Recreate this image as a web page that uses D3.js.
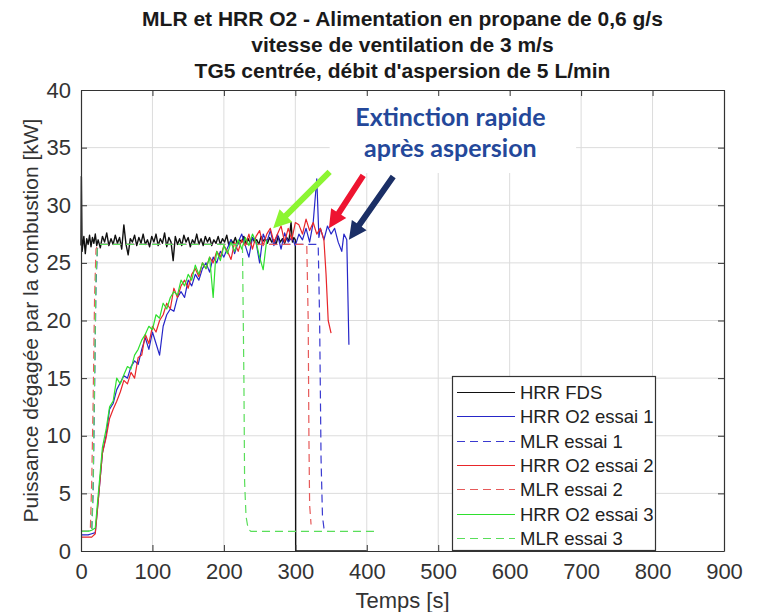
<!DOCTYPE html>
<html>
<head>
<meta charset="utf-8">
<script src="https://cdn.jsdelivr.net/npm/d3@7"></script>
<style>
  body { margin: 0; background: #fff; }
  svg { display: block; }
</style>
</head>
<body>
<div id="chart"></div>
<script>
// --- data: [temps (s), puissance (kW)] ---
const hrrFds = [[0,26.5],[0.5,32.5],[1.5,26],[4,27.3],[6,25.8],[8,27.1],[10,26.6],[12,27.4],[14,26.4],[16,27.2],[18,26.7],[20,27.5],[22,26.5],[24,27.0],[27,26.3],[30,27.3],[33,26.8],[36,27.6],[39,26.5],[42,27.1],[45,26.6],[48,27.4],[51,26.7],[54,27.2],[57,26.2],[60,28.3],[63,26.6],[66,25.7],[69,27.1],[72,26.8],[75,27.4],[78,26.5],[81,27.2],[84,26.7],[87,27.5],[90,26.6],[93,27.0],[96,26.4],[99,27.3],[102,26.8],[105,27.5],[108,26.5],[111,27.1],[114,26.7],[117,27.6],[120,26.4],[123,27.2],[126,26.8],[129,25.2],[132,27.3],[135,26.6],[138,27.1],[141,26.5],[144,27.4],[147,26.8],[150,27.2],[153,26.4],[156,27.0],[159,26.7],[162,27.5],[165,26.6],[168,27.1],[171,26.5],[174,27.3],[177,26.8],[180,27.2],[183,26.5],[186,27.0],[189,26.7],[192,27.3],[195,26.6],[198,27.1],[201,26.8],[204,27.4],[207,26.5],[210,27.0],[213,26.7],[216,27.2],[219,26.6],[222,27.0],[225,26.8],[228,27.3],[231,26.6],[234,27.1],[237,26.7],[240,27.2],[243,26.8],[246,27.0],[249,26.6],[252,27.3],[255,26.9],[258,27.1],[261,26.7],[264,27.2],[267,26.8],[270,27.0],[273,26.6],[276,27.3],[279,26.8],[282,27.1],[285,26.7],[288,27.2],[291,26.9],[294,28.5],[296,26.8],[298,27.2],[300,27.0],[300.5,0],[400,0]]

const hrrO2Essai1 = [[0,1.4],[5,1.4],[10,1.4],[15,1.5],[20,1.6],[25,5],[30,8.5],[35,10],[40,12.3],[45,12.8],[50,14],[55,14.6],[60,15.2],[65,15],[70,16],[75,16.5],[80,16.2],[85,17.5],[90,18.5],[95,17.5],[100,19],[105,18],[110,17],[115,19.5],[120,20.5],[125,21],[130,20.8],[135,22],[140,22.5],[145,22],[150,23.5],[155,23],[160,24],[165,23.5],[170,24.5],[175,25],[180,24.2],[185,25.5],[190,25],[195,26],[200,25.5],[205,26.3],[210,27],[215,25.8],[220,26.8],[225,27.5],[230,26.5],[235,25.5],[240,27.2],[245,26.8],[250,25],[255,27.5],[260,26.8],[265,27.8],[270,26.5],[275,27.5],[280,26.2],[285,27.6],[290,26.8],[295,27.2],[300,26.5],[305,27.5],[310,27],[315,28],[320,26.8],[325,28.5],[330,32.3],[333,27.2],[335,28],[340,27],[345,28.2],[350,27.5],[355,28],[360,26.8],[365,26],[368,27.5],[372,27],[375,17.9]]

const mlrEssai1 = [[0,1.7],[15,1.7],[17,5],[19,14],[21,23],[23,26.2],[26,26.6],[332,26.6],[334,20],[336,8],[338,3],[340,2],[344,1.7],[346,1.7]]

const hrrO2Essai2 = [[0,1.2],[5,1.2],[10,1.2],[15,1.2],[20,1.5],[25,5],[30,8.5],[35,9.8],[40,11.5],[45,12.3],[50,13],[55,13.8],[60,14.8],[65,14.5],[70,15.5],[75,15],[80,16.8],[85,17],[90,18.8],[95,18],[100,19.5],[105,19],[110,20],[115,20.5],[120,21.5],[125,21],[130,22.8],[135,22],[140,23],[145,23.5],[150,22.8],[155,24],[160,24.5],[165,23.8],[170,25],[175,24.5],[180,25.5],[185,25],[190,26],[195,25.5],[200,26.5],[205,26],[210,25.3],[215,26.8],[220,26],[225,27],[230,26.5],[235,27.5],[240,26.2],[245,27.3],[250,27.8],[255,26.5],[260,27.5],[265,28],[270,26.8],[275,27.5],[280,28.2],[285,26.8],[290,28],[295,27],[300,28.5],[305,28.3],[310,27.5],[315,28.8],[320,27.8],[325,28.5],[330,27.5],[335,28],[340,27],[343,24],[346,20],[350,18.9]]

const mlrEssai2 = [[0,1.7],[13,1.7],[15,6],[17,13],[19,22],[21,26.2],[24,26.6],[316,26.6],[318,20],[319,10],[320,4],[322,2.3]]

const hrrO2Essai3 = [[0,1.7],[5,1.7],[10,1.7],[15,1.8],[20,2],[25,5.5],[30,9],[35,10.5],[40,12.5],[45,13],[50,15],[55,14.5],[60,15.3],[65,16],[70,15.8],[75,17],[80,17.5],[85,18.3],[90,18.8],[95,19.5],[100,19.2],[105,20.5],[110,20.2],[115,21.5],[120,21],[125,22],[130,22.5],[135,22.2],[140,23.5],[145,23],[150,24],[155,23.5],[160,24.8],[165,24],[170,25],[175,24.5],[180,25.5],[185,22],[188,25],[190,26],[195,25.2],[200,26.5],[205,25.8],[210,26.8],[215,26],[220,27],[225,26.2],[230,27.2],[235,26.5],[240,27.5],[245,26.8],[250,25.5],[255,24.4],[258,26],[260,27]]

const mlrEssai3 = [[0,1.7],[15,1.7],[17,6],[19,15],[21,24],[23,26.4],[26,26.6],[226,26.6],[228,15],[229,6],[231,3],[234,1.9],[238,1.7],[417,1.7]]

const seriesNames = ['HRR FDS', 'HRR O2 essai 1', 'MLR essai 1', 'HRR O2 essai 2', 'MLR essai 2', 'HRR O2 essai 3', 'MLR essai 3']
const seriesData = [hrrFds, hrrO2Essai1, mlrEssai1, hrrO2Essai2, mlrEssai2, hrrO2Essai3, mlrEssai3]
const seriesColors = ['#111111', '#2626c8', '#3a3ad0', '#e8262a', '#e65a5a', '#2ee02e', '#5ade5a']
const seriesDashed = [false, false, true, false, true, false, true]

const xTicks = [0, 100, 200, 300, 400, 500, 600, 700, 800, 900]
const yTicks = [0, 5, 10, 15, 20, 25, 30, 35, 40]

const titleLines = ['MLR et HRR O2 - Alimentation en propane de 0,6 g/s', 'vitesse de ventilation de 3 m/s', "TG5 centrée, débit d'aspersion de 5 L/min"]
const annotationLines = ['Extinction rapide', 'après aspersion']
// arrows: [from t, from kW, to t, to kW, colour]
const arrows = [[348, 32.9, 269, 28.0, '#8cf532'], [395, 32.6, 347, 28.0, '#ee1430'], [437, 32.5, 375, 27.0, '#1b2f66']]

const width = 757, height = 612
const plotLeft = 81, plotRight = 724, plotTop = 90, plotBottom = 551

const svg = d3.select('#chart').append('svg')
    .attr('width', width)
    .attr('height', height)

const x = d3.scaleLinear().domain([0, 900]).range([plotLeft, plotRight])
const y = d3.scaleLinear().domain([0, 40]).range([plotBottom, plotTop])

const tickFont = '"Liberation Sans", Arial, sans-serif'

// grid
svg.append('g').selectAll('line')
    .data(xTicks.slice(1, -1)).enter().append('line')
    .attr('x1', d => x(d)).attr('x2', d => x(d))
    .attr('y1', plotTop).attr('y2', plotBottom)
    .attr('stroke', '#dcdcdc').attr('stroke-width', 1)
svg.append('g').selectAll('line')
    .data(yTicks.slice(1, -1)).enter().append('line')
    .attr('x1', plotLeft).attr('x2', plotRight)
    .attr('y1', d => y(d)).attr('y2', d => y(d))
    .attr('stroke', '#dcdcdc').attr('stroke-width', 1)

// series
const line = d3.line()
    .x(d => x(d[0]))
    .y(d => y(d[1]))

const plot = svg.append('g')
seriesData.forEach(function(data, i) {
    plot.append('path')
        .datum(data)
        .attr('d', line)
        .attr('fill', 'none')
        .attr('stroke', seriesColors[i])
        .attr('stroke-width', i === 0 ? 1.4 : 1.2)
        .attr('stroke-dasharray', seriesDashed[i] ? '8,5' : null)
        .attr('stroke-linejoin', 'round')
})

// white box behind the annotation
svg.append('rect')
    .attr('x', x(348)).attr('y', plotTop + 1.5)
    .attr('width', x(693) - x(348))
    .attr('height', y(32.8) - plotTop - 1.5)
    .attr('fill', '#fff')

// axes (box with inward ticks, MATLAB style)
const xAxisBottom = d3.axisBottom(x).tickValues(xTicks).tickSizeInner(-6).tickSizeOuter(0).tickPadding(12)
const xAxisTop = d3.axisTop(x).tickValues(xTicks).tickSizeInner(-6).tickSizeOuter(0).tickFormat('')
const yAxisLeft = d3.axisLeft(y).tickValues(yTicks).tickSizeInner(-6).tickSizeOuter(0).tickPadding(10)
const yAxisRight = d3.axisRight(y).tickValues(yTicks).tickSizeInner(-6).tickSizeOuter(0).tickFormat('')

function styleAxis(g) {
    g.select('.domain').attr('stroke', '#333').attr('stroke-width', 1.2)
    g.selectAll('.tick line').attr('stroke', '#333')
    g.selectAll('.tick text').attr('fill', '#333')
        .style('font-family', tickFont).style('font-size', '22px')
}

svg.append('g').attr('transform', `translate(0,${plotBottom})`).call(xAxisBottom).call(styleAxis)
svg.append('g').attr('transform', `translate(0,${plotTop})`).call(xAxisTop).call(styleAxis)
svg.append('g').attr('transform', `translate(${plotLeft},0)`).call(yAxisLeft).call(styleAxis)
svg.append('g').attr('transform', `translate(${plotRight},0)`).call(yAxisRight).call(styleAxis)

// titles and labels
svg.append('g').selectAll('text')
    .data(titleLines).enter().append('text')
    .attr('x', (plotLeft + plotRight) / 2)
    .attr('y', (d, i) => 26 + i * 26)
    .attr('text-anchor', 'middle')
    .style('font-family', tickFont)
    .style('font-weight', 'bold')
    .style('font-size', '21px')
    .attr('fill', '#1a1a1a')
    .text(d => d)

svg.append('text')
    .attr('x', (plotLeft + plotRight) / 2).attr('y', 608)
    .attr('text-anchor', 'middle')
    .style('font-family', tickFont).style('font-size', '22px')
    .attr('fill', '#333')
    .text('Temps [s]')

svg.append('text')
    .attr('transform', `translate(38,${(plotTop + plotBottom) / 2}) rotate(-90)`)
    .attr('text-anchor', 'middle')
    .style('font-family', tickFont).style('font-size', '21px')
    .attr('fill', '#333')
    .text('Puissance dégagée par la combustion [kW]')

// legend
const legend = svg.append('g')
legend.append('rect')
    .attr('x', 452.5).attr('y', 376.5).attr('width', 203).attr('height', 174)
    .attr('fill', '#fff').attr('stroke', '#333').attr('stroke-width', 1.2)
const rows = legend.selectAll('g')
    .data(seriesNames).enter().append('g')
    .attr('transform', (d, i) => `translate(0,${Math.round(392 + i * 24.3) + 0.5})`)
rows.append('line')
    .attr('x1', 457).attr('x2', 515)
    .attr('stroke', (d, i) => seriesColors[i])
    .attr('stroke-width', 1.2)
    .attr('stroke-dasharray', (d, i) => seriesDashed[i] ? '8,5' : null)
rows.append('text')
    .attr('x', 520).attr('y', 6.5)
    .style('font-family', tickFont).style('font-size', '18.5px')
    .attr('fill', '#222')
    .text(d => d)

// annotation
svg.append('g').selectAll('text')
    .data(annotationLines).enter().append('text')
    .attr('x', x(517))
    .attr('y', (d, i) => 126 + i * 31)
    .attr('text-anchor', 'middle')
    .style('font-family', 'Lato, "Open Sans", sans-serif')
    .style('font-weight', 'bold')
    .style('font-size', '25px')
    .attr('fill', '#24489a')
    .text(d => d)

// arrows
arrows.forEach(function(a) {
    const x0 = x(a[0]), y0 = y(a[1]), x1 = x(a[2]), y1 = y(a[3])
    const dx = x1 - x0, dy = y1 - y0, len = Math.sqrt(dx * dx + dy * dy)
    const ux = dx / len, uy = dy / len, px = -uy, py = ux
    const headLen = 18, headW = 9, shaftW = 3
    const bx = x1 - ux * headLen, by = y1 - uy * headLen
    const pts = [
        [x0 + px * shaftW, y0 + py * shaftW],
        [bx + px * shaftW, by + py * shaftW],
        [bx + px * headW, by + py * headW],
        [x1, y1],
        [bx - px * headW, by - py * headW],
        [bx - px * shaftW, by - py * shaftW],
        [x0 - px * shaftW, y0 - py * shaftW]
    ]
    svg.append('path')
        .attr('d', 'M' + pts.map(p => p.join(',')).join('L') + 'Z')
        .attr('fill', a[4])
})
</script>
</body>
</html>
